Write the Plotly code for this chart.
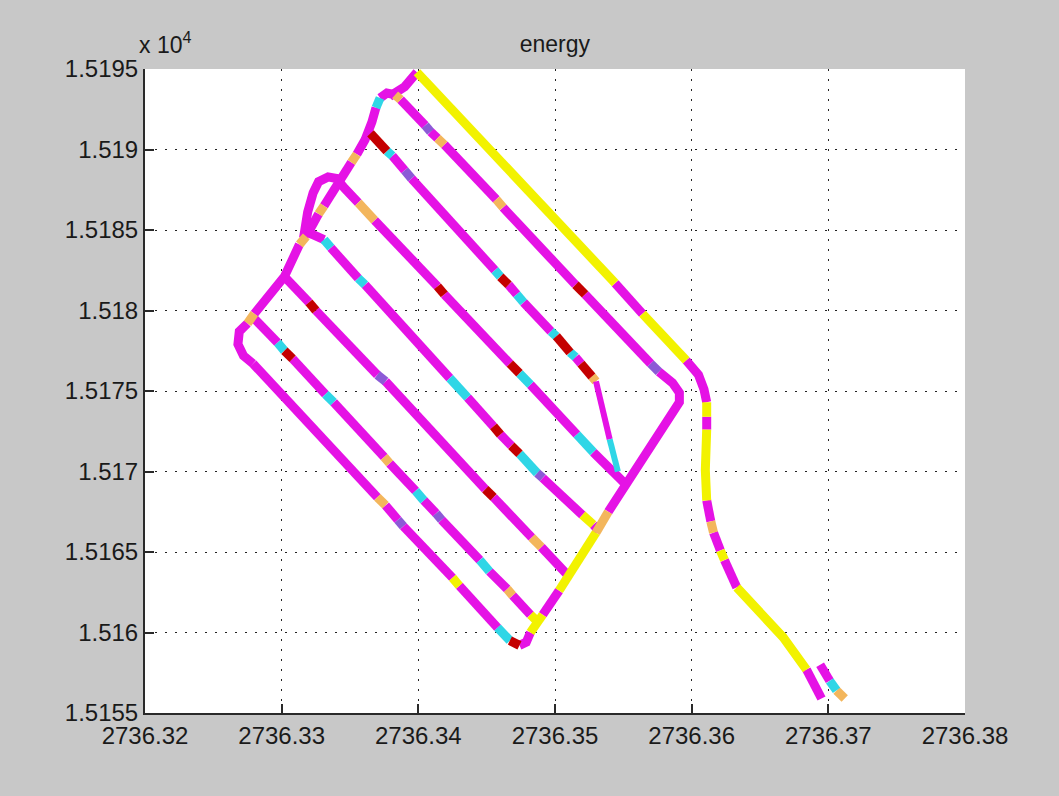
import plotly.graph_objects as go

# ---------------- axis ticks ----------------
X_TICKS = [2736.32, 2736.33, 2736.34, 2736.35, 2736.36, 2736.37, 2736.38]
X_TICK_TEXT = ["2736.32", "2736.33", "2736.34", "2736.35", "2736.36", "2736.37", "2736.38"]
Y_TICKS = [15155, 15160, 15165, 15170, 15175, 15180, 15185, 15190, 15195]
Y_TICK_TEXT = ["1.5155", "1.516", "1.5165", "1.517", "1.5175", "1.518", "1.5185", "1.519", "1.5195"]

# ---------------- track data (x, y, energy class per segment) ----------------
# energy classes: M (magenta), Y (yellow), O (orange), C (cyan), P (violet), R (red)

# outer diagonal + eastern exit track
EAST_X = [2736.3399, 2736.3544, 2736.3564, 2736.3596, 2736.3605, 2736.3609, 2736.3611,
          2736.3611, 2736.3611, 2736.3610, 2736.3611, 2736.3614, 2736.3616, 2736.3621,
          2736.3624, 2736.3633, 2736.3650, 2736.3667, 2736.3684, 2736.3695]
EAST_Y = [15194.8, 15181.7, 15179.8, 15176.9, 15176.0, 15175.1, 15174.3,
          15173.4, 15172.6, 15170.1, 15168.2, 15166.9, 15166.2, 15165.1,
          15164.5, 15162.8, 15161.3, 15159.7, 15157.7, 15155.9]
EAST_E = ["Y", "M", "Y", "M", "M", "M", "Y", "M", "Y", "Y", "M", "O", "M", "Y",
          "M", "Y", "Y", "Y", "M"]

# short separate piece near the end
SHORT_X = [2736.3694, 2736.3701, 2736.3706, 2736.3712]
SHORT_Y = [15158.0, 15157.0, 15156.4, 15155.9]
SHORT_E = ["M", "C", "O"]

# small link at the top
TOP_X = [2736.3379, 2736.3390, 2736.3399]
TOP_Y = [15193.3, 15193.9, 15194.8]
TOP_E = ["M", "M"]

# outer rectangle: west boundary, second line, east edge, bottom line
RECT_X = [2736.3279, 2736.3272, 2736.3268, 2736.3269, 2736.3275, 2736.3280, 2736.3295,
          2736.3302, 2736.3313, 2736.3318, 2736.3324, 2736.3327, 2736.3331, 2736.3343,
          2736.3351, 2736.3355, 2736.3361, 2736.3366, 2736.3369, 2736.3372, 2736.3377,
          2736.3383, 2736.3387, 2736.3405, 2736.3409, 2736.3414, 2736.3419, 2736.3457,
          2736.3462, 2736.3515, 2736.3522, 2736.3570, 2736.3576, 2736.3586, 2736.3591,
          2736.3591, 2736.3539, 2736.3530, 2736.3503, 2736.3491, 2736.3482, 2736.3479,
          2736.3474, 2736.3467, 2736.3458, 2736.3430, 2736.3425, 2736.3389, 2736.3385,
          2736.3376, 2736.3370, 2736.3279]
RECT_Y = [15176.7, 15177.2, 15177.9, 15178.7, 15179.2, 15179.8, 15181.3,
          15182.1, 15184.1, 15184.6, 15185.6, 15186.0, 15186.5, 15188.1,
          15189.2, 15189.7, 15190.6, 15191.7, 15192.6, 15193.2, 15193.5,
          15193.4, 15193.1, 15191.5, 15191.1, 15190.7, 15190.3, 15186.9,
          15186.4, 15181.6, 15181.0, 15176.7, 15176.2, 15175.5, 15174.9,
          15174.3, 15167.5, 15166.2, 15162.6, 15161.1, 15160.0, 15159.4,
          15159.2, 15159.5, 15160.3, 15162.9, 15163.4, 15166.6, 15167.0,
          15167.9, 15168.4, 15176.7]
RECT_E = ["M", "M", "M", "M", "O", "M", "M", "M", "O", "M", "M", "O", "M", "M", "O",
          "M", "M", "M", "C", "M", "M", "O", "M", "P", "M", "O", "M", "O", "M", "R",
          "M", "P", "M", "M", "M", "M", "O", "Y", "M", "Y", "M", "M", "R", "C", "M",
          "Y", "M", "P", "M", "O", "M"]

# third line (ends in the thin spike)
L3_X = [2736.3365, 2736.3370, 2736.3377, 2736.3381, 2736.3390, 2736.3395, 2736.3456,
        2736.3460, 2736.3466, 2736.3472, 2736.3477, 2736.3497, 2736.3501, 2736.3511,
        2736.3515, 2736.3519, 2736.3527, 2736.3530]
L3_Y = [15191.0, 15190.6, 15189.9, 15189.6, 15188.7, 15188.2, 15182.5,
        15182.1, 15181.6, 15181.0, 15180.5, 15178.7, 15178.4, 15177.4,
        15177.1, 15176.7, 15175.9, 15175.6]
L3_E = ["R", "R", "C", "M", "P", "M", "C", "R", "M", "C", "M", "C", "R", "C", "M", "R", "O"]

SPIKE_X = [2736.3530, 2736.3540, 2736.3546]
SPIKE_Y = [15175.6, 15172.0, 15170.0]
SPIKE_E = ["M", "C"]

# fourth line with its U-turn
L4_X = [2736.3316, 2736.3319, 2736.3323, 2736.3327, 2736.3334, 2736.3340, 2736.3346,
        2736.3356, 2736.3368, 2736.3414, 2736.3419, 2736.3467, 2736.3474, 2736.3482,
        2736.3516, 2736.3528, 2736.3553]
L4_Y = [15184.5, 15186.1, 15187.3, 15188.0, 15188.3, 15188.2, 15187.6,
        15186.7, 15185.6, 15181.5, 15181.0, 15176.7, 15176.1, 15175.4,
        15172.3, 15171.2, 15169.1]
L4_E = ["M", "M", "M", "M", "M", "M", "M", "O", "M", "R", "M", "R", "C", "M", "C", "M"]

# fifth line
L5_X = [2736.3318, 2736.3331, 2736.3336, 2736.3356, 2736.3361, 2736.3423, 2736.3436,
        2736.3455, 2736.3460, 2736.3468, 2736.3474, 2736.3477, 2736.3487, 2736.3491,
        2736.3520, 2736.3528, 2736.3532]
L5_Y = [15184.9, 15184.4, 15183.9, 15182.0, 15181.6, 15175.8, 15174.6,
        15172.8, 15172.3, 15171.6, 15171.1, 15170.8, 15169.9, 15169.6,
        15167.3, 15166.7, 15166.3]
L5_E = ["M", "C", "M", "C", "M", "C", "M", "R", "M", "R", "C", "C", "P", "M", "Y", "M"]

# sixth line
L6_X = [2736.3302, 2736.3320, 2736.3325, 2736.3370, 2736.3376, 2736.3449, 2736.3455,
        2736.3483, 2736.3490, 2736.3510]
L6_Y = [15182.1, 15180.5, 15180.0, 15176.0, 15175.6, 15168.9, 15168.4,
        15165.9, 15165.3, 15163.5]
L6_E = ["M", "R", "M", "P", "M", "R", "M", "O", "M"]

# seventh line
L7_X = [2736.3280, 2736.3297, 2736.3302, 2736.3308, 2736.3332, 2736.3338, 2736.3375,
        2736.3379, 2736.3398, 2736.3404, 2736.3413, 2736.3417, 2736.3445, 2736.3452,
        2736.3465, 2736.3469, 2736.3482, 2736.3487]
L7_Y = [15179.5, 15178.0, 15177.5, 15177.0, 15174.8, 15174.3, 15170.9,
        15170.5, 15168.8, 15168.2, 15167.4, 15167.0, 15164.5, 15163.8,
        15162.7, 15162.3, 15161.1, 15160.7]
L7_E = ["M", "C", "R", "M", "C", "M", "O", "M", "C", "M", "P", "M", "C", "M", "O", "M", "Y"]

# ---------------- styling ----------------
CLASS_COLORS = {
    "M": "#e512e5",
    "Y": "#f2f200",
    "O": "#f3b65c",
    "C": "#2fd6e6",
    "P": "#8c5ad6",
    "R": "#c40000",
}
DRAW_ORDER = ["M", "Y", "O", "C", "P", "R"]
MAIN_W = 9
THIN_W = 6

TRACKS = [
    (EAST_X, EAST_Y, EAST_E, MAIN_W),
    (SHORT_X, SHORT_Y, SHORT_E, MAIN_W),
    (TOP_X, TOP_Y, TOP_E, MAIN_W),
    (RECT_X, RECT_Y, RECT_E, MAIN_W),
    (L3_X, L3_Y, L3_E, MAIN_W),
    (SPIKE_X, SPIKE_Y, SPIKE_E, THIN_W),
    (L4_X, L4_Y, L4_E, MAIN_W),
    (L5_X, L5_Y, L5_E, MAIN_W),
    (L6_X, L6_Y, L6_E, MAIN_W),
    (L7_X, L7_Y, L7_E, MAIN_W),
]

# group runs of the same class into polylines, per class and width
groups = {}
for xs, ys, es, w in TRACKS:
    assert len(xs) == len(ys) == len(es) + 1
    i = 0
    while i < len(es):
        j = i
        while j + 1 < len(es) and es[j + 1] == es[i]:
            j += 1
        key = (es[i], w)
        gx, gy = groups.setdefault(key, ([], []))
        gx.extend(xs[i:j + 2] + [None])
        gy.extend(ys[i:j + 2] + [None])
        i = j + 1

fig = go.Figure()
for w in (MAIN_W, THIN_W):
    for c in DRAW_ORDER:
        if (c, w) in groups:
            gx, gy = groups[(c, w)]
            fig.add_trace(go.Scatter(
                x=gx, y=gy, mode="lines",
                line=dict(color=CLASS_COLORS[c], width=w),
                hoverinfo="skip", showlegend=False,
            ))

FONT = "Liberation Sans, Arial, Helvetica, sans-serif"

fig.update_layout(
    width=1059, height=796,
    paper_bgcolor="#c8c8c8",
    plot_bgcolor="#ffffff",
    margin=dict(l=145, r=94, t=69, b=83),
    showlegend=False,
    title=dict(text="energy", x=0.524, xanchor="center", y=1 - 44 / 796, yanchor="middle",
               yref="container", font=dict(family=FONT, size=23, color="#1a1a1a")),
    font=dict(family=FONT, color="#1a1a1a"),
)

axis_common = dict(
    showgrid=True, gridcolor="#222222", gridwidth=1, griddash="2px,8px",
    zeroline=False, showline=True, linecolor="#2a2a2a", linewidth=2,
    ticks="inside", ticklen=9, tickwidth=1.5, tickcolor="#2a2a2a",
    tickfont=dict(family=FONT, size=24, color="#1a1a1a"),
    mirror=False,
)

fig.update_xaxes(range=[2736.32, 2736.38], tickmode="array", tickvals=X_TICKS,
                 ticktext=X_TICK_TEXT, **axis_common)
fig.update_yaxes(range=[15155, 15195], tickmode="array", tickvals=Y_TICKS,
                 ticktext=Y_TICK_TEXT, **axis_common)

fig.add_annotation(text="x 10<sup>4</sup>", xref="paper", yref="paper",
                   x=-0.01, y=1.0, xanchor="left", yanchor="bottom", yshift=9,
                   showarrow=False, font=dict(family=FONT, size=23, color="#1a1a1a"))

fig.write_html(
    "out.html",
    config={"displayModeBar": False},
    post_script="document.body.style.margin='0';document.body.style.background='#c8c8c8';",
)
